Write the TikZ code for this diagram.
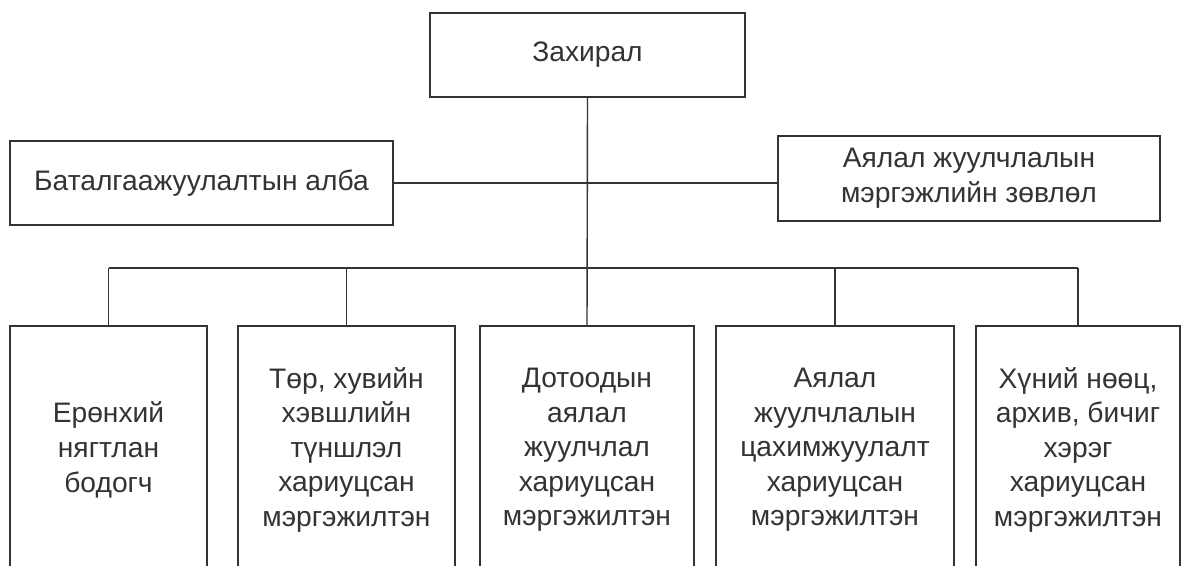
\documentclass[tikz,border=0pt]{standalone}
\usepackage{fontspec}
\setmainfont{Liberation Sans}
\definecolor{ink}{HTML}{333333}
\begin{document}
\begin{tikzpicture}[x=1pt,y=-1pt,
  box/.style={draw=ink, line width=1.7pt, rectangle, inner sep=0pt, align=center,
    text=ink, font=\fontsize{28.2}{34.6}\selectfont},
  link/.style={draw=ink, line width=1.4pt}]
\useasboundingbox (0,0) rectangle (1182,565);
\fill[white] (0,0) rectangle (1182,565);
\node[box, minimum width=315pt, minimum height=84pt] (top) at (587.5,55) {Захирал};
\node[box, minimum width=383pt, minimum height=84pt] (left) at (201.5,183) {Баталгаажуулалтын алба};
\node[box, minimum width=382pt, minimum height=85pt] (right) at (969,178.5) {Аялал жуулчлалын\\мэргэжлийн зөвлөл};
\node[box, minimum width=197pt, minimum height=248pt, anchor=north] (b1) at (108.5,325) {Ерөнхий\\нягтлан\\бодогч};
\node[box, minimum width=217pt, minimum height=248pt, anchor=north] (b2) at (346.5,325) {Төр, хувийн\\хэвшлийн\\түншлэл\\хариуцсан\\мэргэжилтэн};
\node[box, minimum width=214pt, minimum height=248pt, anchor=north] (b3) at (587,325) {Дотоодын\\аялал\\жуулчлал\\хариуцсан\\мэргэжилтэн};
\node[box, minimum width=238pt, minimum height=248pt, anchor=north] (b4) at (835,325) {Аялал\\жуулчлалын\\цахимжуулалт\\хариуцсан\\мэргэжилтэн};
\node[box, minimum width=204pt, minimum height=248pt, anchor=north] (b5) at (1078,325) {Хүний нөөц,\\архив, бичиг\\хэрэг\\хариуцсан\\мэргэжилтэн};
\coordinate (bus) at (587,268);
\draw[link] (top.south) -- (b3.north);
\draw[link] (left.east) -- (left.east -| right.west);
\draw[link] (b1.north |- bus) -- (b5.north |- bus);
\foreach \n in {b1,b2,b4,b5} \draw[link] (\n.north) -- (\n.north |- bus);
\end{tikzpicture}
\end{document}
